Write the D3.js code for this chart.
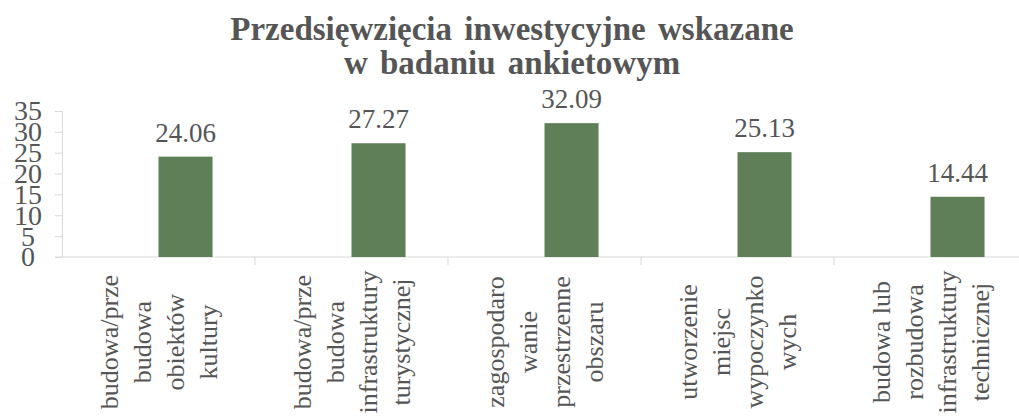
<!DOCTYPE html>
<html>
<head>
<meta charset="utf-8">
<script src="https://cdn.jsdelivr.net/npm/d3@7"></script>
<style>
  body { margin: 0; background: #fff; }
  svg { display: block; }
</style>
</head>
<body>
<script>
// chart data
var categories = [
    "budowa/przebudowa obiektów kultury",
    "budowa/przebudowa infrastruktury turystycznej",
    "zagospodarowanie przestrzenne obszaru",
    "utworzenie miejsc wypoczynkowych",
    "budowa lub rozbudowa infrastruktury technicznej"
];
// wrapped lines as they appear under the axis
var categoryLines = [
    ["budowa/prze", "budowa", "obiektów", "kultury"],
    ["budowa/prze", "budowa", "infrastruktury", "turystycznej"],
    ["zagospodaro", "wanie", "przestrzenne", "obszaru"],
    ["utworzenie", "miejsc", "wypoczynko", "wych"],
    ["budowa lub", "rozbudowa", "infrastruktury", "technicznej"]
];
var values = [24.06, 27.27, 32.09, 25.13, 14.44];
var yTicks = [0, 5, 10, 15, 20, 25, 30, 35];
var titleLines = ["Przedsięwzięcia inwestycyjne wskazane", "w badaniu ankietowym"];

var W = 1019, H = 418;
var font = '"Liberation Serif", "Times New Roman", serif';
var textColor = '#555555';
var barColor = '#5e7f58';
var axisColor = '#d9d9d9';

var svg = d3.select("body")
    .append("svg")
    .attr("width", W)
    .attr("height", H);

// plot area
var left = 62, baseY = 257, topY = 111, step = 193;

var x = d3.scaleBand()
    .domain(categories)
    .range([left, left + step * categories.length])
    .paddingInner(0)
    .paddingOuter(0);

var y = d3.scaleLinear()
    .domain([0, 35])
    .range([baseY, topY]);

// title
svg.append("text")
    .attr("x", 512)
    .attr("y", 40)
    .attr("text-anchor", "middle")
    .style("font-family", font)
    .style("font-weight", "bold")
    .style("font-size", "33px")
    .style("word-spacing", "4px")
    .attr("fill", textColor)
    .selectAll("tspan")
    .data(titleLines)
    .enter()
    .append("tspan")
    .attr("x", 512)
    .attr("dy", function (d, i) { return i === 0 ? 0 : 34; })
    .text(function (d) { return d; });

// y axis
var yAxis = d3.axisLeft(y)
    .tickValues(yTicks)
    .tickSize(7)
    .tickPadding(0);

var gy = svg.append("g")
    .attr("transform", "translate(" + left + ",0)")
    .call(yAxis);
gy.select(".domain").attr("stroke", axisColor);
gy.selectAll(".tick line").attr("stroke", axisColor);
gy.selectAll(".tick text")
    .attr("x", -34)
    .attr("text-anchor", "middle")
    .attr("fill", textColor)
    .style("font-family", font)
    .style("font-size", "28px");

// x axis baseline + boundary ticks
svg.append("line")
    .attr("x1", left - 7)
    .attr("x2", W)
    .attr("y1", baseY)
    .attr("y2", baseY)
    .attr("stroke", axisColor);

svg.selectAll(".xtick")
    .data(categories)
    .enter()
    .append("line")
    .attr("class", "xtick")
    .attr("x1", function (d) { return x(d) + x.bandwidth(); })
    .attr("x2", function (d) { return x(d) + x.bandwidth(); })
    .attr("y1", baseY)
    .attr("y2", baseY + 8)
    .attr("stroke", axisColor);

// bars (second slot of each category, first series is empty)
var barW = x.bandwidth() * 0.28;

svg.selectAll(".bar")
    .data(values)
    .enter()
    .append("rect")
    .attr("class", "bar")
    .attr("x", function (d, i) { return x(categories[i]) + x.bandwidth() / 2; })
    .attr("y", function (d) { return y(d); })
    .attr("width", barW)
    .attr("height", function (d) { return baseY - y(d); })
    .attr("fill", barColor);

// value labels
svg.selectAll(".val")
    .data(values)
    .enter()
    .append("text")
    .attr("class", "val")
    .attr("x", function (d, i) { return x(categories[i]) + x.bandwidth() / 2 + barW / 2; })
    .attr("y", function (d) { return y(d) - 15; })
    .attr("text-anchor", "middle")
    .attr("fill", textColor)
    .style("font-family", font)
    .style("font-size", "27px")
    .text(function (d) { return d.toFixed(2); });

// category labels, rotated
var lineGap = 33;
var labelMidY = 342;

var lab = svg.selectAll(".cat")
    .data(categories)
    .enter()
    .append("g")
    .attr("class", "cat")
    .attr("transform", function (d) {
        return "translate(" + (x(d) + x.bandwidth() / 2) + "," + labelMidY + ")";
    });

lab.each(function (d, i) {
    var lines = categoryLines[i];
    d3.select(this).selectAll("text")
        .data(lines)
        .enter()
        .append("text")
        .attr("transform", function (t, j) {
            return "translate(" + ((j - (lines.length - 1) / 2) * lineGap) + ",0) rotate(-90)";
        })
        .attr("text-anchor", "middle")
        .attr("dominant-baseline", "central")
        .attr("fill", textColor)
        .style("font-family", font)
        .style("font-size", "26px")
        .text(function (t) { return t; });
});
</script>
</body>
</html>
